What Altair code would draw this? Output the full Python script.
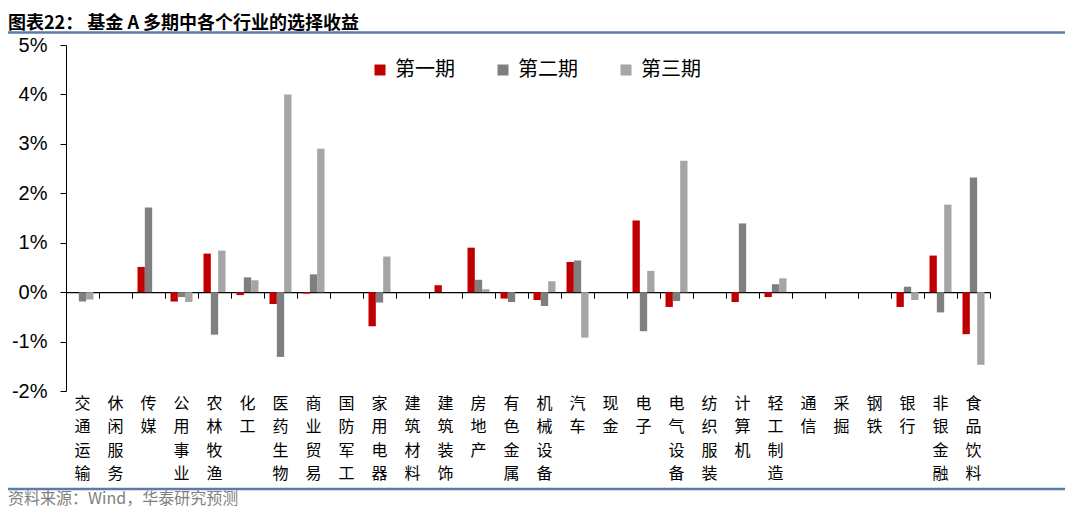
import altair as alt
import pandas as pd

categories = ["交通运输", "休闲服务", "传媒", "公用事业", "农林牧渔", "化工", "医药生物",
              "商业贸易", "国防军工", "家用电器", "建筑材料", "建筑装饰", "房地产", "有色金属",
              "机械设备", "汽车", "现金", "电子", "电气设备", "纺织服装", "计算机", "轻工制造",
              "通信", "采掘", "钢铁", "银行", "非银金融", "食品饮料"]
periods = ["第一期", "第二期", "第三期"]
period1 = [0, 0, 0.51, -0.19, 0.78, -0.06, -0.24, -0.03, 0, -0.69, 0, 0.14, 0.90, -0.13,
           -0.16, 0.61, 0, 1.45, -0.30, 0, -0.20, -0.10, 0, 0, 0, -0.30, 0.74, -0.85]
period2 = [-0.19, 0, 1.71, -0.10, -0.86, 0.30, -1.31, 0.36, 0, -0.21, 0, 0, 0.25, -0.20,
           -0.28, 0.64, 0, -0.79, -0.18, 0, 1.39, 0.16, 0, 0, 0, 0.11, -0.41, 2.32]
period3 = [-0.15, 0, 0, -0.20, 0.84, 0.24, 4.00, 2.90, 0, 0.72, 0, 0, 0.06, 0, 0.22,
           -0.92, 0, 0.43, 2.66, 0, 0, 0.28, 0, 0, 0, -0.16, 1.77, -1.47]
colors = ["#C00000", "#7F7F7F", "#A5A5A5"]
y_ticks = [-2, -1, 0, 1, 2, 3, 4, 5]

title_text = "图表22：  基金 A 多期中各个行业的选择收益"
source_text = "资料来源：Wind，华泰研究预测"

rows = []
for p, vals in zip(periods, [period1, period2, period3]):
    for c, v in zip(categories, vals):
        rows.append({"行业": c, "期": p, "收益": v})
df = pd.DataFrame(rows)

W, H = 924, 346
CJK = "Noto Sans CJK SC"

bars = alt.Chart(df).mark_bar().encode(
    x=alt.X("行业:N", sort=categories,
            scale=alt.Scale(domain=categories, paddingInner=0, paddingOuter=0),
            axis=alt.Axis(title=None, orient="bottom", offset=-H * 2 / 7,
                          domainColor="black", domainWidth=1.2,
                          tickColor="black", tickSize=6, tickWidth=1,
                          bandPosition=1, tickExtra=True,
                          labelAngle=0, labelExpr="split(datum.label, '')",
                          labelFont=CJK, labelFontSize=16, labelLineHeight=23.5,
                          labelPadding=97, labelBaseline="top", labelColor="black",
                          labelOverlap=False, grid=False)),
    xOffset=alt.XOffset("期:N", sort=periods,
                        scale=alt.Scale(paddingInner=0, paddingOuter=0.75)),
    y=alt.Y("收益:Q", scale=alt.Scale(domain=[-2, 5], nice=False),
            axis=alt.Axis(title=None, values=y_ticks, labelExpr="datum.value + '%'",
                          grid=False, domainColor="black", domainWidth=1,
                          tickColor="black", tickSize=6, labelPadding=13,
                          labelFont="Liberation Sans", labelFontSize=20,
                          labelColor="black")),
    color=alt.Color("期:N", sort=periods,
                    scale=alt.Scale(domain=periods, range=colors),
                    legend=alt.Legend(title=None, orient="none", legendX=304, legendY=15,
                                      direction="horizontal", symbolType="square",
                                      symbolSize=121, symbolStrokeWidth=0,
                                      labelFont=CJK, labelFontSize=20,
                                      labelColor="black", labelOffset=5,
                                      columnPadding=38, padding=0)),
)

one = pd.DataFrame({"k": [0]})

title = alt.Chart(one).mark_text(
    align="left", baseline="middle", font=CJK, fontSize=18, fontWeight="bold", color="black"
).encode(x=alt.value(-58), y=alt.value(-21.5), text=alt.value(title_text))

source = alt.Chart(one).mark_text(
    align="left", baseline="middle", font=CJK, fontSize=16, color="#7F7F7F"
).encode(x=alt.value(-58), y=alt.value(454), text=alt.value(source_text))

line_top = alt.Chart(one).mark_rule(color="#5B7BA9", strokeWidth=2.5).encode(
    x=alt.value(-60), x2=alt.value(1002), y=alt.value(-12.5))
line_bottom = alt.Chart(one).mark_rule(color="#5B7BA9", strokeWidth=2.5).encode(
    x=alt.value(-60), x2=alt.value(1002), y=alt.value(444))

chart = alt.layer(bars, line_top, line_bottom, title, source).properties(
    width=W, height=H,
    autosize=alt.AutoSizeParams(type="none"),
    padding={"left": 58, "top": 37, "right": 75, "bottom": 119},
).configure_view(stroke=None)

chart.save("out.html", embed_options={"renderer": "svg", "actions": False})
